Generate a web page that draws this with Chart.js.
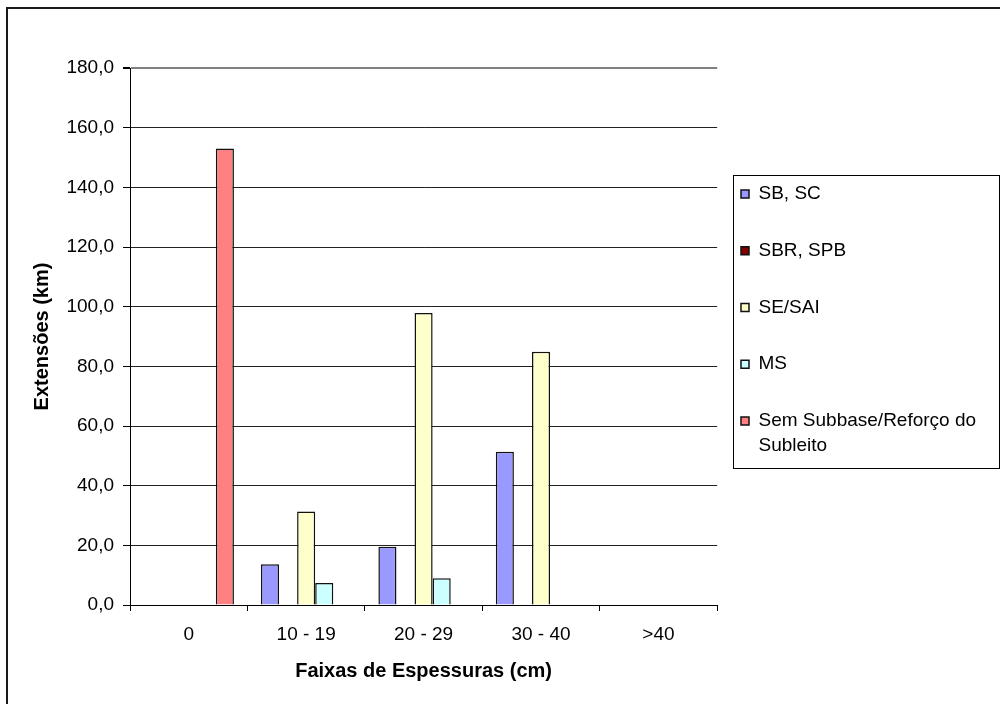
<!DOCTYPE html>
<html>
<head>
<meta charset="utf-8">
<script src="https://cdn.jsdelivr.net/npm/chart.js@4.4.0/dist/chart.umd.min.js"></script>
<style>
  html, body { margin: 0; padding: 0; background: #fff; overflow: hidden; }
  #wrap { position: relative; width: 1000px; height: 704px; }
  #frame { position: absolute; left: 6px; top: 7px; width: 1010px; height: 720px;
           border-left: 2px solid #1a1a1a; border-top: 2px solid #1a1a1a; pointer-events: none; }
  canvas { position: absolute; left: 0; top: 0; }
</style>
</head>
<body>
<div id="wrap">
  <canvas id="chart" width="1000" height="704"></canvas>
  <div id="frame"></div>
</div>
<script>
// --- DATA ---
const categories = ["0", "10 - 19", "20 - 29", "30 - 40", ">40"];
const sbSc   = [null, 13.7, 19.5, 51.4, null];
const sbrSpb = [null, null, null, null, null];
const seSai  = [null, 31.3, 97.9, 84.9, null];
const ms     = [null, 7.4, 9.0, null, null];
const semSub = [153.0, null, null, null, null];
const yTicks = [0, 20, 40, 60, 80, 100, 120, 140, 160, 180];

const font = "'Liberation Sans', Arial, sans-serif";

// --- LEGEND PLACEMENT + BOX ---
const legendBox = {
  id: "legendBox",
  afterLayout(chart) {
    const lg = chart.legend;
    lg.left = 703.25;
    lg.right = lg.left + lg.width;
    lg.top = 146.75;
    lg.bottom = chart.chartArea.bottom;
  },
  afterDraw(chart) {
    const ctx = chart.ctx;
    ctx.save();
    ctx.strokeStyle = "#000";
    ctx.lineWidth = 1;
    ctx.strokeRect(733.5, 175.5, 266, 293);
    ctx.restore();
  }
};

// --- CHART ---
const mk = (label, data, color) => ({
  label: label,
  data: data,
  backgroundColor: color,
  borderColor: "#111",
  borderWidth: 1.5,
  barPercentage: 1,
  categoryPercentage: 0.77
});

new Chart(document.getElementById("chart"), {
  type: "bar",
  data: {
    labels: categories,
    datasets: [
      mk("SB, SC", sbSc, "#9999FF"),
      mk("SBR, SPB", sbrSpb, "#800000"),
      mk("SE/SAI", seSai, "#FFFFCC"),
      mk("MS", ms, "#CCFFFF"),
      mk(["Sem Subbase/Reforço do", "Subleito"], semSub, "#FF8080")
    ]
  },
  options: {
    responsive: false,
    devicePixelRatio: 1,
    animation: false,
    layout: { padding: { top: 68, bottom: 17, left: 0, right: 0 } },
    plugins: {
      tooltip: { enabled: false },
      legend: {
        position: "right",
        align: "start",
        fullSize: false,
        maxWidth: 284,
        labels: {
          boxWidth: 8,
          boxHeight: 8,
          padding: 37.75,
          color: "#000",
          font: { family: font, size: 19, lineHeight: 1.3 }
        }
      }
    },
    scales: {
      x: {
        grid: {
          offset: true,
          drawOnChartArea: true,
          color: c => (c.index === categories.length ? "#808080" : "rgba(0,0,0,0)"),
          lineWidth: c => (c.index === categories.length ? 2 : 1),
          tickColor: "#000",
          tickLength: 6
        },
        border: { color: "#000", width: 1 },
        ticks: { color: "#000", padding: 12, font: { family: font, size: 19 } },
        title: {
          display: true,
          text: "Faixas de Espessuras (cm)",
          color: "#000",
          font: { family: font, size: 20, weight: "bold" },
          padding: { top: 4, bottom: 4 }
        },
        afterFit: s => { s.height = 82; }
      },
      y: {
        min: yTicks[0],
        max: yTicks[yTicks.length - 1],
        afterBuildTicks: s => { s.ticks = yTicks.map(v => ({ value: v })); },
        grid: {
          color: c => (c.tick && c.tick.value === 180 ? "#808080" : "#222"),
          lineWidth: c => (c.tick && c.tick.value === 180 ? 2 : 1),
          tickColor: "#000",
          tickLength: 7
        },
        border: { color: "#000", width: 1 },
        ticks: {
          color: "#000",
          padding: 9,
          font: { family: font, size: 19 },
          callback: v => v.toFixed(1).replace(".", ",")
        },
        title: {
          display: true,
          text: "Extensões (km)",
          color: "#000",
          font: { family: font, size: 20, weight: "bold" },
          padding: { top: 30, bottom: 4 }
        },
        afterFit: s => { s.width = 130; }
      }
    }
  },
  plugins: [legendBox]
});
</script>
</body>
</html>
